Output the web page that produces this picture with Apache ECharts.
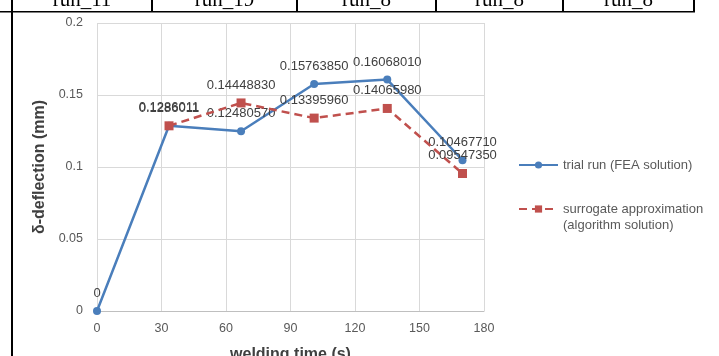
<!DOCTYPE html>
<html>
<head>
<meta charset="utf-8">
<script src="https://cdn.jsdelivr.net/npm/echarts@6/dist/echarts.min.js"></script>
<style>
html,body{margin:0;padding:0;background:#fff;}
#c{width:719px;height:356px;}
</style>
</head>
<body>
<div id="c"></div>
<script>
// Data
var xTimes = [0, 33.5, 67, 101, 135, 170];
var feaValues = [0, 0.1286011, 0.1248057, 0.1576385, 0.1606801, 0.1046771];
var feaLabels = ['0', '0.1286011', '0.12480570', '0.15763850', '0.16068010', '0.10467710'];
var surTimes = [33.5, 67, 101, 135, 170];
var surValues = [0.1286011, 0.1444883, 0.1339596, 0.1406598, 0.0954735];
var surLabels = ['0.1286011', '0.14448830', '0.13395960', '0.14065980', '0.09547350'];
var headerCells = ['run_11', 'run_19', 'run_8', 'run_8', 'run_8'];
var seriesNames = ['trial run (FEA solution)', 'surrogate approximation\n(algorithm solution)'];

var chart = echarts.init(document.getElementById('c'), null, {renderer: 'canvas'});

function pairs(xs, ys, labels) {
  return xs.map(function (x, i) { return {value: [x, ys[i]], labelText: labels[i]}; });
}

var colBounds = [12, 152, 297, 436, 563, 694];
var graphics = [];
headerCells.forEach(function (t, i) {
  graphics.push({
    type: 'text',
    x: (colBounds[i] + colBounds[i + 1]) / 2, y: 0.6,
    style: {text: t, font: '21px "Liberation Serif", serif', fill: '#000', align: 'center', verticalAlign: 'middle'},
    z: 100
  });
});
colBounds.forEach(function (x) {
  graphics.push({type: 'line', shape: {x1: x, y1: 0, x2: x, y2: 12}, style: {stroke: '#000', lineWidth: 2}, z: 100});
});
graphics.push({type: 'line', shape: {x1: 0, y1: 11.7, x2: 695, y2: 11.7}, style: {stroke: '#000', lineWidth: 1.5}, z: 100});
graphics.push({type: 'line', shape: {x1: 12, y1: 0, x2: 12, y2: 356}, style: {stroke: '#000', lineWidth: 2}, z: 100});

var labelStyle = {
  show: true, position: 'top', distance: 7, color: '#404040',
  fontSize: 13, fontFamily: '"Liberation Sans", Arial, sans-serif',
  formatter: function (p) { return p.data.labelText; }
};

chart.setOption({
  animation: false,
  backgroundColor: '#ffffff',
  textStyle: {fontFamily: '"Liberation Sans", Arial, sans-serif'},
  grid: {left: 97, right: 235, top: 23, bottom: 45, containLabel: false, outerBoundsMode: 'none'},
  xAxis: {
    type: 'value', min: 0, max: 180, interval: 30,
    name: 'welding time (s)', nameLocation: 'middle', nameGap: 36,
    nameTextStyle: {fontSize: 16, fontWeight: 'bold', color: '#404040'},
    axisLine: {show: true, lineStyle: {color: '#bfbfbf', width: 1}},
    axisTick: {show: false},
    axisLabel: {color: '#595959', fontSize: 12.5, margin: 11},
    splitLine: {show: true, lineStyle: {color: '#d9d9d9', width: 1}}
  },
  yAxis: {
    type: 'value', min: 0, max: 0.2, interval: 0.05,
    name: 'δ-deflection (mm)', nameLocation: 'middle', nameGap: 44,
    nameTextStyle: {fontSize: 16, fontWeight: 'bold', color: '#404040'},
    axisLine: {show: false},
    axisTick: {show: false},
    axisLabel: {color: '#595959', fontSize: 12.5, margin: 14},
    splitLine: {show: true, lineStyle: {color: '#d9d9d9', width: 1}}
  },
  legend: {
    orient: 'vertical', left: 518, top: 157, itemGap: 12, padding: 0,
    itemWidth: 39, itemHeight: 9,
    textStyle: {color: '#595959', fontSize: 13, lineHeight: 16},
    formatter: function (name) { return name.indexOf('\n') >= 0 ? '\n' + name : name; },
    data: seriesNames
  },
  series: [
    {
      name: seriesNames[0], type: 'line',
      data: pairs(xTimes, feaValues, feaLabels),
      symbol: 'circle', symbolSize: 8,
      itemStyle: {color: '#4a7ebb'},
      lineStyle: {color: '#4a7ebb', width: 2.5},
      label: labelStyle, z: 2
    },
    {
      name: seriesNames[1], type: 'line',
      data: pairs(surTimes, surValues, surLabels),
      symbol: 'rect', symbolSize: 9,
      itemStyle: {color: '#c0504d'},
      lineStyle: {color: '#c0504d', width: 2.5, type: [8, 5]},
      label: labelStyle, z: 3
    }
  ],
  graphic: graphics
});
</script>
</body>
</html>
